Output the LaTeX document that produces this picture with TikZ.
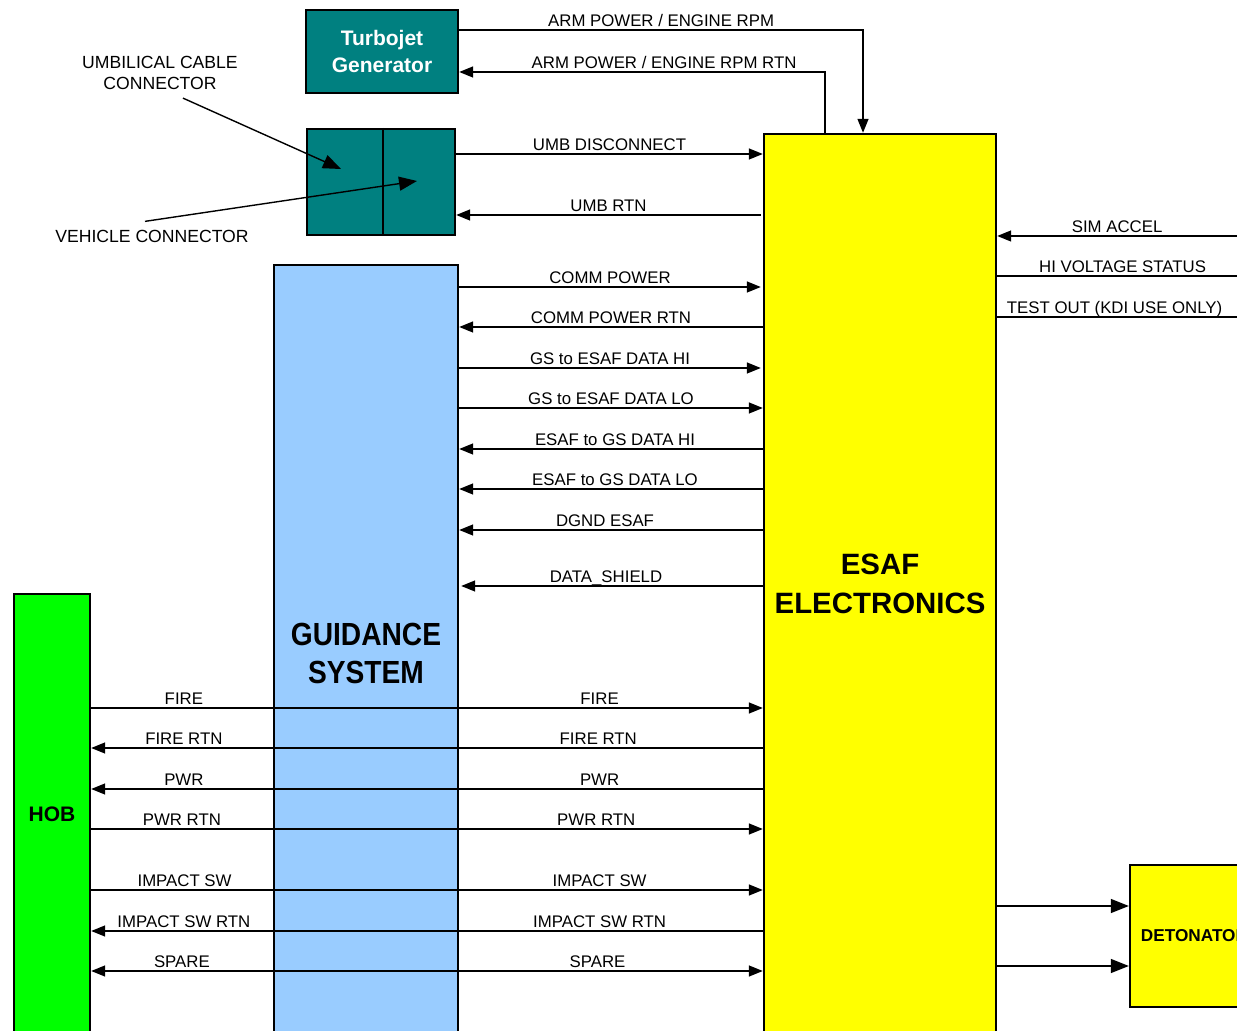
\documentclass[tikz,border=0pt]{standalone}
\usepackage{fontspec}
\setmainfont{Liberation Sans}
\newfontfamily\narrowsans[FakeStretch=0.88]{Liberation Sans}
\usetikzlibrary{arrows.meta,positioning}
\definecolor{jetteal}{HTML}{008080}
\definecolor{gsblue}{HTML}{99CCFF}
\definecolor{esafyellow}{HTML}{FFFF00}
\definecolor{hobgreen}{HTML}{00FF00}
\tikzset{
  unit/.style={
    rectangle, draw=black, line width=1.2pt,
    inner sep=0pt, align=center
  },
  sig/.style={line width=0.7pt, >={Triangle[length=7pt,width=5.5pt]}},
  bigsig/.style={line width=0.7pt, >={Triangle[length=9pt,width=7pt]}},
  lbl/.style={
    above, inner sep=1.5pt, text depth=0pt,
    font=\fontsize{8.4}{10}\selectfont
  },
  callout/.style={
    align=center, inner sep=1pt,
    font=\fontsize{8.8}{10.5}\selectfont
  },
}

\begin{document}
\begin{tikzpicture}[x=0.5pt, y=-0.5pt]

  \useasboundingbox (0,0) rectangle (1237,1031);
  \clip (0,0) rectangle (1237,1031);
  \coordinate (rim) at (1237,0);
  \coordinate (rimout) at (1252,0);

  % Units
  \node[unit, fill=jetteal, text=white, minimum width=76pt, minimum height=41.5pt,
        font=\bfseries\fontsize{10.5}{13.5}\selectfont]
    (turbojet) at (382,51.5) {Turbojet\\Generator};

  \node[unit, fill=jetteal, minimum width=74pt, minimum height=53pt]
    (umbconn) at (381,182) {};
  \draw[line width=1.2pt] ([xshift=1pt]umbconn.north) -- ([xshift=1pt]umbconn.south);

  \node[unit, fill=gsblue, minimum width=92pt, minimum height=388pt,
        font=\narrowsans\bfseries\fontsize{16}{19}\selectfont]
    (guidance) at (366,653) {GUIDANCE\\SYSTEM};

  \node[unit, fill=esafyellow, minimum width=116pt, minimum height=450pt,
        font=\bfseries\fontsize{14.7}{19.5}\selectfont]
    (esaf) at (880,584) {ESAF\\ELECTRONICS};

  \node[unit, fill=hobgreen, minimum width=38pt, minimum height=220pt,
        font=\bfseries\fontsize{10.5}{12}\selectfont]
    (hob) at (52,814) {HOB};

  \node[unit, fill=esafyellow, minimum width=64.5pt, minimum height=71pt,
        font=\bfseries\fontsize{8.6}{10}\selectfont]
    (detonator) at (1194.5,936) {DETONATOR};

  % Callouts
  \node[callout] (umblbl) at (160,73) {UMBILICAL CABLE\\CONNECTOR};
  \node[callout] (vehlbl) at (152,236) {VEHICLE CONNECTOR};
  \coordinate (umbtip) at (341,169);
  \coordinate (vehtip) at (417,181);
  \draw[bigsig, ->] ([xshift=11.5pt,yshift=-3pt]umblbl.south) -- (umbtip);
  \draw[bigsig, ->] ([xshift=-3.5pt,yshift=3pt]vehlbl.north) -- (vehtip);

  % Turbojet and umbilical
  \draw[sig, ->] (turbojet.east |- 0,30) -| node[lbl, pos=0.25]{ARM POWER / ENGINE RPM}
    (esaf.north -| 863,0);
  \draw[sig, ->] (esaf.north -| 825,0) |- node[lbl, pos=0.72]{ARM POWER / ENGINE RPM RTN}
    (turbojet.east |- 0,72);
  \draw[sig, ->] (umbconn.east |- 0,154) -- node[lbl]{UMB DISCONNECT} (esaf.west |- 0,154);
  \draw[sig, <-] (umbconn.east |- 0,215) -- node[lbl]{UMB RTN} ([xshift=-1pt]esaf.west |- 0,215);

  % Outside lines
  \draw[sig, <-] (esaf.east |- 0,236) -- node[lbl]{SIM ACCEL} (rim |- 0,236);
  \draw[sig, ->] (esaf.east |- 0,276) -- node[lbl, xshift=-1pt]{HI VOLTAGE STATUS} (rimout |- 0,276);
  \draw[sig, ->] (esaf.east |- 0,317) -- node[lbl, xshift=-5pt]{TEST OUT (KDI USE ONLY)} (rimout |- 0,317);

  % Guidance system
  \draw[sig, ->] (guidance.east |- 0,287) -- node[lbl]{COMM POWER} ([xshift=-1pt]esaf.west |- 0,287);
  \draw[sig, <-] (guidance.east |- 0,327) -- node[lbl]{COMM POWER RTN} (esaf.west |- 0,327);
  \draw[sig, ->] (guidance.east |- 0,368) -- node[lbl]{GS to ESAF DATA HI} ([xshift=-1pt]esaf.west |- 0,368);
  \draw[sig, ->] (guidance.east |- 0,408) -- node[lbl]{GS to ESAF DATA LO} (esaf.west |- 0,408);
  \draw[sig, <-] (guidance.east |- 0,449) -- node[lbl, xshift=2pt]{ESAF to GS DATA HI} (esaf.west |- 0,449);
  \draw[sig, <-] (guidance.east |- 0,489) -- node[lbl, xshift=2pt]{ESAF to GS DATA LO} (esaf.west |- 0,489);
  \draw[sig, <-] (guidance.east |- 0,530) -- node[lbl, xshift=-3pt]{DGND ESAF} (esaf.west |- 0,530);
  \draw[sig, <-] ([xshift=1pt]guidance.east |- 0,586) -- node[lbl, xshift=-3pt]{DATA\_SHIELD} (esaf.west |- 0,586);

  % HOB
  \draw[sig, ->] (hob.east |- 0,708) -- node[lbl, pos=0.138]{FIRE}
    node[lbl, pos=0.757]{FIRE} (esaf.west |- 0,708);
  \draw[sig, <-] (hob.east |- 0,748) -- node[lbl, pos=0.138]{FIRE RTN}
    node[lbl, pos=0.755]{FIRE RTN} (esaf.west |- 0,748);
  \draw[sig, <-] (hob.east |- 0,789) -- node[lbl, pos=0.138]{PWR}
    node[lbl, pos=0.757]{PWR} (esaf.west |- 0,789);
  \draw[sig, ->] (hob.east |- 0,829) -- node[lbl, pos=0.135]{PWR RTN}
    node[lbl, pos=0.752]{PWR RTN} (esaf.west |- 0,829);
  \draw[sig, ->] (hob.east |- 0,890) -- node[lbl, pos=0.139]{IMPACT SW}
    node[lbl, pos=0.757]{IMPACT SW} (esaf.west |- 0,890);
  \draw[sig, <-] (hob.east |- 0,931) -- node[lbl, pos=0.138]{IMPACT SW RTN}
    node[lbl, pos=0.757]{IMPACT SW RTN} (esaf.west |- 0,931);
  \draw[sig, <->] (hob.east |- 0,971) -- node[lbl, pos=0.135]{SPARE}
    node[lbl, pos=0.754]{SPARE} (esaf.west |- 0,971);

  % Detonator
  \draw[bigsig, ->] (esaf.east |- 0,906) -- (detonator.west |- 0,906);
  \draw[bigsig, ->] (esaf.east |- 0,966) -- (detonator.west |- 0,966);

\end{tikzpicture}
\end{document}
